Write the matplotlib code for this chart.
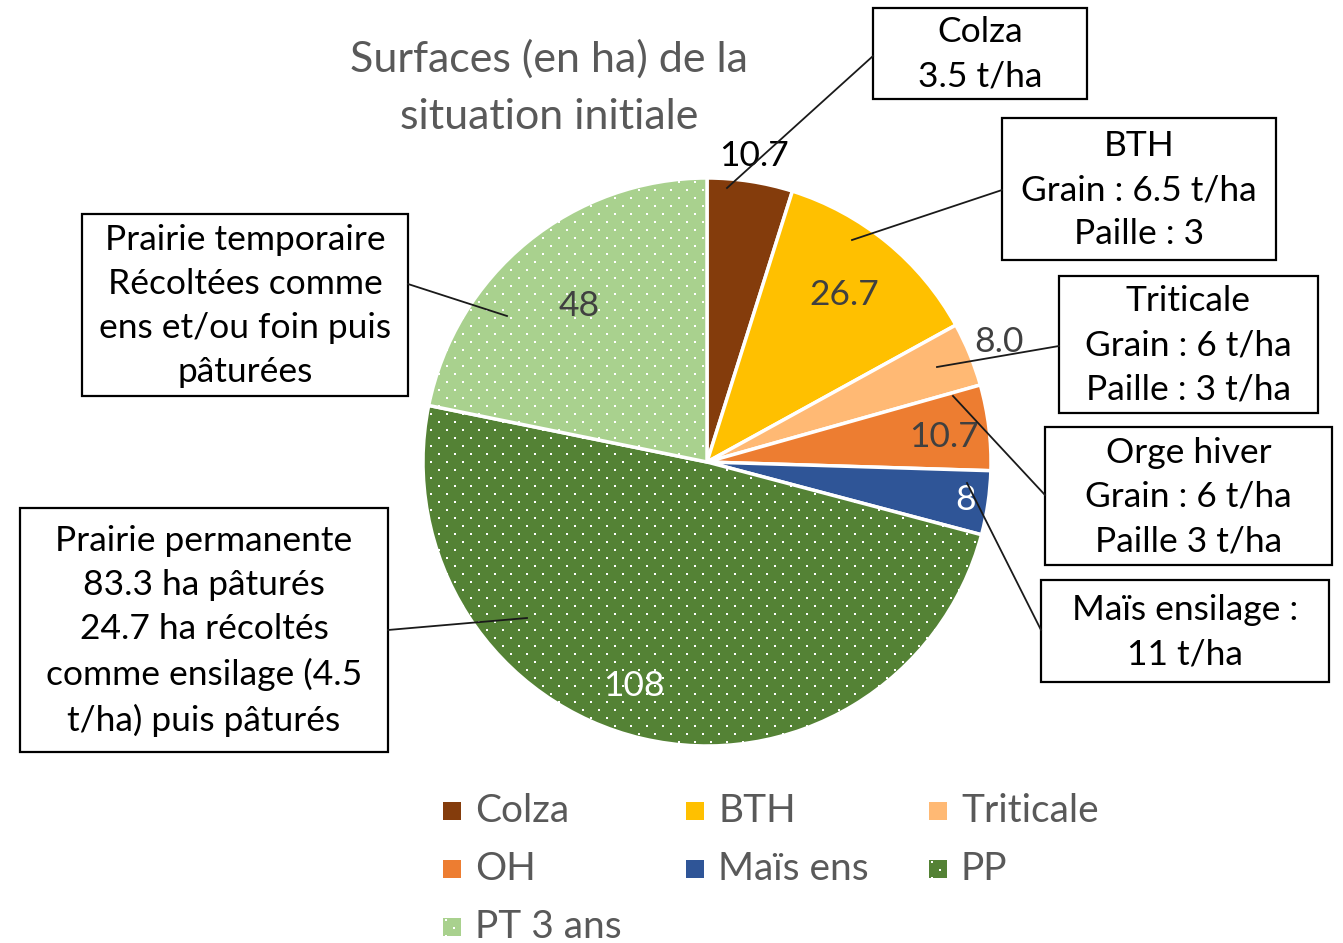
import numpy as np
import matplotlib.pyplot as plt
from matplotlib.patches import Rectangle

plt.rcParams['font.family'] = ['Lato', 'DejaVu Sans']

W, H = 1343, 943

# data
cultures = ['Colza', 'BTH', 'Triticale', 'OH', 'Maïs ens', 'PP', 'PT 3 ans']
surfaces = [10.7, 26.7, 8.0, 10.7, 8, 108, 48]
val_labels = ['10.7', '26.7', '8.0', '10.7', '8', '108', '48']
couleurs = ['#843C0C', '#FFC000', '#FFB974', '#ED7D31', '#2F5597', '#548235', '#A9D18E']
pointille = [False, False, False, False, False, True, True]

box_texts = ['Colza\n3.5 t/ha',
             'BTH\nGrain : 6.5 t/ha\nPaille : 3',
             'Triticale\nGrain : 6 t/ha\nPaille : 3 t/ha',
             'Orge hiver\nGrain : 6 t/ha\nPaille 3 t/ha',
             'Maïs ensilage :\n11 t/ha',
             'Prairie permanente\n83.3 ha pâturés\n24.7 ha récoltés\ncomme ensilage (4.5\nt/ha) puis pâturés',
             'Prairie temporaire\nRécoltées comme\nens et/ou foin puis\npâturées']

# layout (pixels, y down)
cx, cy, R = 707, 462, 284
lab_col = ['black', '#404040', '#404040', '#404040', 'white', 'white', '#404040']
lab_r = [1.09, 0.76, 1.11, 0.84, 0.92, 0.83, 0.71]
lab_dth = [0, 0, 0, -1, 0, -5, 0]
boxes = [(873, 8, 214, 91), (1002, 118, 274, 142), (1059, 276, 259, 137),
         (1045, 427, 287, 138), (1041, 580, 288, 102), (20, 508, 368, 244),
         (82, 214, 326, 182)]
line_from = [(873, 56), (1002, 190), (1059, 346), (1045, 495), (1041, 630),
             (388, 630), (408, 284)]
line_to = [(727, 188), (852, 240), (937, 367), (953, 396), (967, 483),
           (527, 618), (507, 316)]


def dots(ax, x0, y0, x1, y1, patch):
    # petit motif pointillé (lignes tous les 8 px, points tous les 16 px, décalés)
    xs, ys = [], []
    for k, yy in enumerate(np.arange(y0, y1 + 8, 8)):
        xx = np.arange(x0 + (k % 2) * 8, x1 + 16, 16)
        xs.extend(xx)
        ys.extend([yy] * len(xx))
    sc = ax.scatter(xs, ys, s=2.2, marker='s', color='white', linewidths=0, zorder=3)
    sc.set_clip_path(patch)


fig = plt.figure(figsize=(W / 100, H / 100), dpi=100)
ax = fig.add_axes([0, 0, 1, 1])

wedges, _ = ax.pie(surfaces, colors=couleurs, startangle=-90, counterclock=True,
                   center=(cx, cy), radius=R,
                   wedgeprops=dict(edgecolor='white', linewidth=2.5))
for w, p in zip(wedges, pointille):
    if p:
        dots(ax, cx - R, cy - R + 4, cx + R, cy + R, w)

ax.set_xlim(0, W)
ax.set_ylim(H, 0)
ax.set_aspect('auto')
ax.axis('off')

# data labels
for w, t, c, r, dth in zip(wedges, val_labels, lab_col, lab_r, lab_dth):
    mid = np.deg2rad((w.theta1 + w.theta2) / 2 - dth)
    ax.text(cx + r * R * np.cos(mid), cy + r * R * np.sin(mid), t,
            ha='center', va='center', fontsize=25.5, color=c, zorder=4)

# callout boxes
for (x, y, bw, bh), txt, p0, p1 in zip(boxes, box_texts, line_from, line_to):
    ax.add_patch(Rectangle((x, y), bw, bh, fill=False, edgecolor='black', linewidth=1.6))
    ax.text(x + bw / 2, y + bh / 2 + 1, txt, ha='center', va='center',
            fontsize=25.5, color='black', linespacing=1.47)
    ax.plot([p0[0], p1[0]], [p0[1], p1[1]], color='#1a1a1a', linewidth=1.3, zorder=5)

# title
ax.text(549, 88, 'Surfaces (en ha) de la\nsituation initiale', ha='center', va='center',
        fontsize=31, color='#595959', linespacing=1.62)

# legend
for i, (nom, c, p) in enumerate(zip(cultures, couleurs, pointille)):
    row, col = i // 3, i % 3
    x0 = 443 + col * 243
    y0 = 811 + row * 58
    sq = Rectangle((x0, y0 - 9), 18, 18, facecolor=c, edgecolor='none')
    ax.add_patch(sq)
    if p:
        dots(ax, x0 + 3, y0 - 7, x0 + 18, y0 + 9, sq)
    ax.text(x0 + 32, y0, nom, ha='left', va='center', fontsize=28, color='#595959')

fig.savefig('out.png', dpi=100)
